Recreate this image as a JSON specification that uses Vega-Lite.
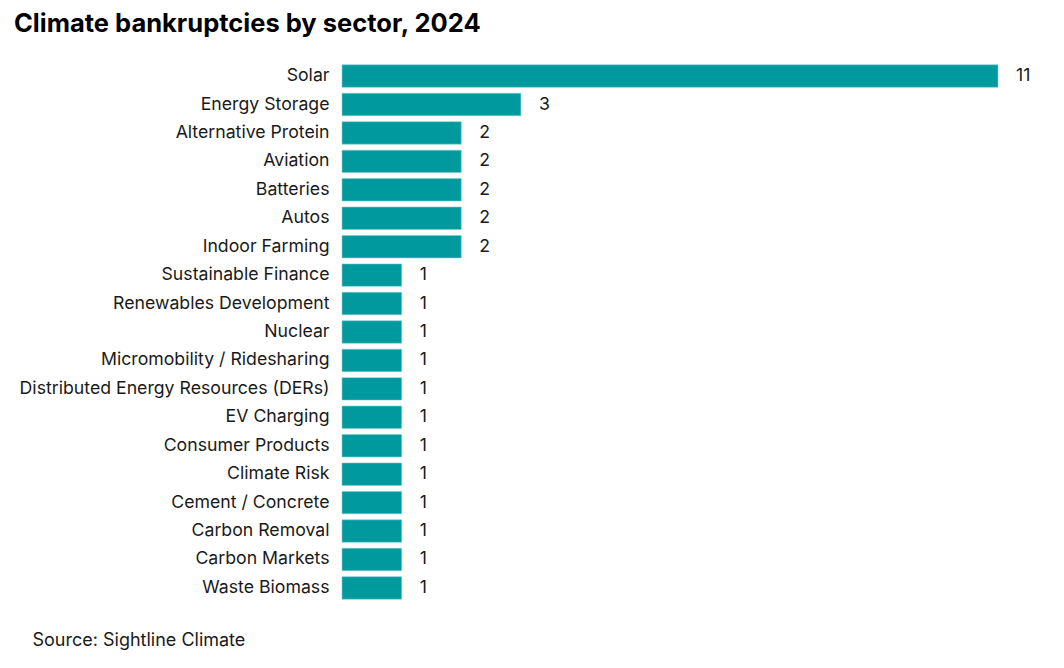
{
  "$schema": "https://vega.github.io/schema/vega-lite/v6.json",
  "width": 656,
  "height": 540,
  "autosize": {"type": "none"},
  "padding": {"left": 342, "top": 62, "right": 66, "bottom": 66},
  "background": "white",
  "config": {"view": {"stroke": null}, "font": "Inter"},
  "title": {
    "text": "Climate bankruptcies by sector, 2024",
    "anchor": "start",
    "frame": "group",
    "dx": -328,
    "dy": -5,
    "fontSize": 25.5,
    "fontWeight": "bold",
    "color": "#000000",
    "font": "Inter",
    "offset": 0,
    "baseline": "alphabetic"
  },
  "data": {
    "values": [
      {"sector": "Solar", "count": 11},
      {"sector": "Energy Storage", "count": 3},
      {"sector": "Alternative Protein", "count": 2},
      {"sector": "Aviation", "count": 2},
      {"sector": "Batteries", "count": 2},
      {"sector": "Autos", "count": 2},
      {"sector": "Indoor Farming", "count": 2},
      {"sector": "Sustainable Finance", "count": 1},
      {"sector": "Renewables Development", "count": 1},
      {"sector": "Nuclear", "count": 1},
      {"sector": "Micromobility / Ridesharing", "count": 1},
      {"sector": "Distributed Energy Resources (DERs)", "count": 1},
      {"sector": "EV Charging", "count": 1},
      {"sector": "Consumer Products", "count": 1},
      {"sector": "Climate Risk", "count": 1},
      {"sector": "Cement / Concrete", "count": 1},
      {"sector": "Carbon Removal", "count": 1},
      {"sector": "Carbon Markets", "count": 1},
      {"sector": "Waste Biomass", "count": 1}
    ]
  },
  "encoding": {
    "y": {
      "field": "sector",
      "type": "nominal",
      "sort": null,
      "scale": {"paddingInner": 0.21, "paddingOuter": 0.1},
      "axis": {
        "title": null,
        "ticks": false,
        "domain": false,
        "labelFontSize": 17.7,
        "labelColor": "#1a1a1a",
        "labelPadding": 13,
        "labelFont": "Inter",
        "labelLimit": 400
      }
    },
    "x": {
      "field": "count",
      "type": "quantitative",
      "scale": {"domain": [0, 11], "nice": false},
      "axis": {
        "labels": false,
        "ticks": false,
        "domain": false,
        "grid": false,
        "title": "Source: Sightline Climate",
        "titleFont": "Inter",
        "titleFontSize": 18,
        "titleFontWeight": "normal",
        "titleColor": "#1a1a1a",
        "titleAnchor": "start",
        "titleAlign": "left",
        "titleBaseline": "alphabetic",
        "titleX": -310,
        "titleY": 43
      }
    }
  },
  "layer": [
    {"mark": {"type": "bar", "color": "#00999E", "stroke": "#7fcfd1", "strokeWidth": 0.6}},
    {
      "mark": {"type": "text", "align": "left", "baseline": "middle", "dx": 18, "fontSize": 17.7, "color": "#1a1a1a", "font": "Inter"},
      "encoding": {"text": {"field": "count", "type": "quantitative"}}
    }
  ]
}
